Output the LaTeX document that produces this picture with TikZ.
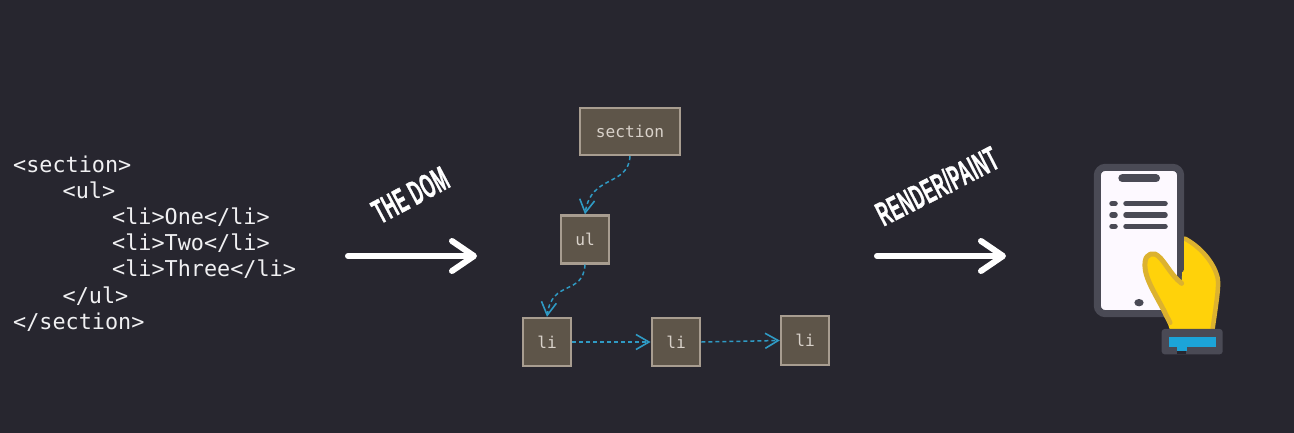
\documentclass[tikz,border=0pt]{standalone}
\usepackage{fontspec}
\usetikzlibrary{arrows.meta}
\setmonofont{DejaVu Sans Mono}
\newfontfamily\condfont[FakeBold=1.2,LetterSpace=3]{Liberation Sans Bold}
\definecolor{bgc}{HTML}{27262F}
\definecolor{boxfill}{HTML}{5E5549}
\definecolor{boxline}{HTML}{A89D90}
\definecolor{boxtext}{HTML}{D9D2CA}
\definecolor{linkc}{HTML}{2F9AC4}
\definecolor{codec}{HTML}{F0F0F2}
\definecolor{darkc}{HTML}{4A4A55}
\definecolor{screenc}{HTML}{FDF9FF}
\definecolor{handc}{HTML}{FFD20A}
\definecolor{handline}{HTML}{DCB22F}
\definecolor{cuffc}{HTML}{1CA4D8}
\tikzset{
  code/.style={anchor=base west,inner sep=0pt,text=codec,font=\ttfamily\fontsize{21.8}{26}\selectfont},
  domnode/.style={draw=boxline,fill=boxfill,line width=2.4pt,text=boxtext,inner sep=0pt,font=\ttfamily\fontsize{16.2}{20}\selectfont},
  link/.style={draw=linkc,line width=1.5pt,dash pattern=on 4pt off 3pt,-{Straight Barb[length=13pt,width=15pt,line width=1.6pt]}},
  bigarrow/.style={draw=white,line width=6pt,line cap=round,-{Straight Barb[length=22pt,width=30pt,line width=6pt,round]}},
  slanted/.style={text=white,inner sep=0pt,font=\condfont\fontsize{34}{36}\selectfont},
  ink/.style={line width=5.5pt,line cap=round,draw=darkc},
}
\begin{document}
\begin{tikzpicture}[x=1pt,y=-1pt]
\useasboundingbox (0,0) rectangle (1294,433);
\fill[bgc] (0,0) rectangle (1294,433);

% source code
\node[code] (c1) at (13,172) {<section>};
\node[code] (c2) at (62.5,198) {<ul>};
\node[code] (c3) at (112,224.5) {<li>One</li>};
\node[code] (c4) at (112,250.5) {<li>Two</li>};
\node[code] (c5) at (112,276.5) {<li>Three</li>};
\node[code] (c6) at (62.5,303) {</ul>};
\node[code] (c7) at (13,329) {</section>};

% big arrows and their labels
\coordinate (a1s) at (348,256);
\coordinate (a1e) at (477,256);
\coordinate (a2s) at (877,256);
\coordinate (a2e) at (1006,256);
\draw[bigarrow] (a1s) -- (a1e);
\draw[bigarrow] (a2s) -- (a2e);
\node[slanted,rotate=28,xscale=.5] (t1) at (410.5,195) {THE DOM};
\node[slanted,rotate=27,xscale=.5] (t2) at (937,186) {RENDER/PAINT};

% DOM tree
\node[domnode,minimum width=100pt,minimum height=47pt] (s) at (630,131.5) {section};
\node[domnode,minimum width=47.5pt,minimum height=48pt] (u) at (585,239.5) {ul};
\node[domnode,minimum width=48.5pt,minimum height=48pt] (l1) at (547,342) {li};
\node[domnode,minimum width=48.5pt,minimum height=48pt] (l2) at (676,342) {li};
\node[domnode,minimum width=48pt,minimum height=48.5pt] (l3) at (805,340.5) {li};
\draw[link] (s.south) .. controls (628,187) and (591,174) .. (u.north);
\draw[link] (u.south) .. controls (583,296) and (552,279) .. (l1.north);
\draw[link] (l1.east) -- (l2.west);
\draw[link] (l2.east) -- (l3.west);

% phone and hand icon
\begin{scope}[shift={(1060,150)},x=.33333pt,y=-.33333pt]
  \draw[draw=darkc,fill=screenc,line width=7pt,rounded corners=8pt] (112,52) rectangle (362,491);
  \draw[ink,line width=8pt] (187,85) -- (288,85);
  \foreach \yy in {161,195,229}{
    \draw[ink] (156,\yy) -- (165,\yy);
    \draw[ink] (198,\yy) -- (315,\yy);
  }
  \fill[darkc] (237,458) ellipse (14 and 11);
  % hand
  \filldraw[fill=handc,draw=none]
    (372,262) .. controls (420,290) and (460,335) .. (475,380)
    .. controls (482,400) and (476,440) .. (460,540)
    -- (330,540) -- (318,505)
    .. controls (300,460) and (262,400) .. (255,360)
    .. controls (248,320) and (265,305) .. (285,312)
    .. controls (310,322) and (330,375) .. (365,397)
    -- cycle;
  \draw[handline,line width=4.5pt,line cap=round]
    (375,266) .. controls (420,290) and (460,335) .. (472,380)
    .. controls (478,400) and (472,440) .. (458,535);
  \draw[handline,line width=5pt,line cap=round,line join=round]
    (330,518) -- (318,495)
    .. controls (300,455) and (262,400) .. (256,360)
    .. controls (250,322) and (265,308) .. (285,312)
    .. controls (310,322) and (330,375) .. (365,400);
  \draw[ink,line width=6.5pt] (362,100) -- (362,358);
  % cuff
  \fill[darkc,rounded corners=3pt] (305,537) rectangle (488,613);
  \fill[cuffc] (328,560) rectangle (468,590);
  \fill[cuffc] (350,590) rectangle (380,604);
  \fill[bgc] (352,604) rectangle (378,613);
\end{scope}
\end{tikzpicture}
\end{document}
